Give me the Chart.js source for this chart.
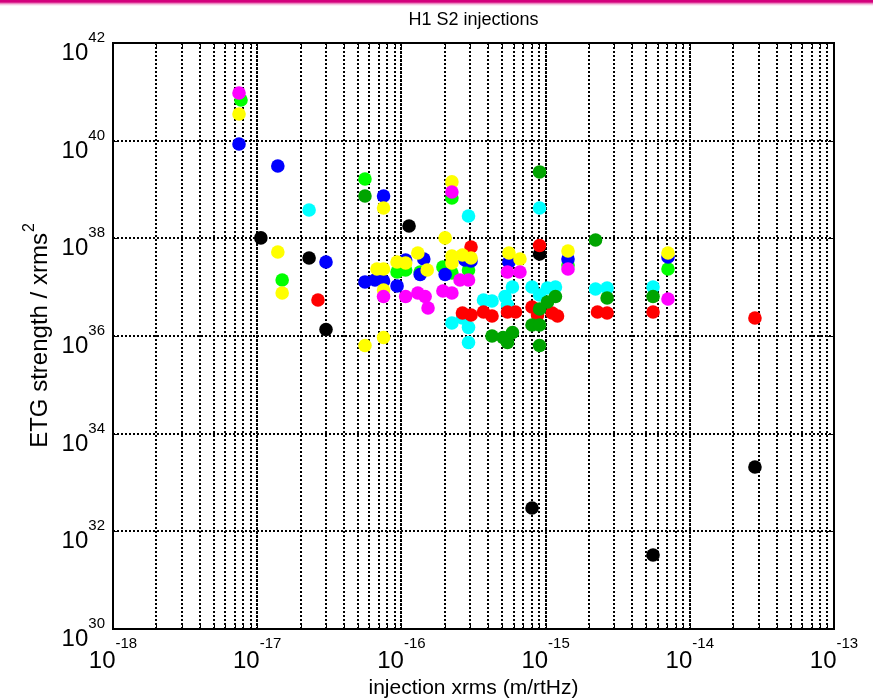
<!DOCTYPE html>
<html>
<head>
<meta charset="utf-8">
<script src="https://cdn.jsdelivr.net/npm/chart.js@4.4.1/dist/chart.umd.min.js"></script>
<style>
  html, body { margin: 0; padding: 0; background: #fff; }
  #wrap { position: relative; width: 873px; height: 700px; }
  #band { position: absolute; left: 0; top: 0; width: 873px; height: 6px;
          background: linear-gradient(to bottom, #d4007c 0px, #d4007c 2px, #f2b6d8 4px, rgba(255,255,255,0) 6px); }
</style>
</head>
<body>
<div id="wrap">
  <canvas id="c" width="873" height="700"></canvas>
  <div id="band"></div>
</div>
<script>
// ---- text ----
const titleText = 'H1 S2 injections';
const xLabel = 'injection xrms (m/rtHz)';
const yLabel = 'ETG strength / xrms';
const yLabelSup = '2';

// ---- axis decades (exponents of 10) ----
const xTickExponents = [-18, -17, -16, -15, -14, -13];
const yTickExponents = [30, 32, 34, 36, 38, 40, 42];

// ---- injections, one colour per series: x = injection xrms, y = ETG strength / xrms^2 ----
const magentaX = [7.48e-18, 2.24e-16, 7.52e-17, 1.07e-16, 1.30e-16, 1.46e-16, 1.53e-16, 1.94e-16, 2.24e-16, 2.55e-16, 2.92e-16, 5.44e-16, 6.64e-16, 1.43e-15, 7.06e-15];
const magentaY = [9.48e40, 8.89e38, 6.44e36, 6.44e36, 7.60e36, 6.44e36, 3.75e36, 8.36e36, 7.60e36, 1.40e37, 1.40e37, 2.05e37, 2.05e37, 2.36e37, 5.73e36];

const yellowX = [7.48e-18, 1.39e-17, 1.49e-17, 5.59e-17, 7.52e-17, 7.52e-17, 6.77e-17, 7.52e-17, 7.52e-17, 9.33e-17, 1.07e-16, 1.30e-16, 1.51e-16, 2.01e-16, 2.24e-16, 2.24e-16, 2.24e-16, 2.65e-16, 3.04e-16, 5.57e-16, 6.64e-16, 1.43e-15, 7.06e-15];
const yellowY = [3.52e40, 5.26e37, 7.60e36, 6.40e35, 9.33e35, 4.19e38, 2.36e37, 2.36e37, 8.75e36, 3.28e37, 3.13e37, 5.01e37, 2.25e37, 1.02e38, 1.43e39, 4.36e37, 3.13e37, 4.56e37, 3.96e37, 5.01e37, 3.78e37, 5.51e37, 5.01e37];

const blueX = [7.48e-18, 1.39e-17, 3.00e-17, 7.52e-17, 5.59e-17, 6.56e-17, 7.52e-17, 9.33e-17, 1.07e-16, 1.43e-16, 1.35e-16, 2.01e-16, 2.76e-16, 3.04e-16, 5.57e-16, 1.43e-15, 7.06e-15];
const blueY = [8.56e39, 3.03e39, 3.28e37, 7.36e38, 1.28e37, 1.40e37, 1.34e37, 1.06e37, 3.60e37, 3.78e37, 1.82e37, 1.82e37, 3.60e37, 3.44e37, 3.28e37, 3.78e37, 4.15e37];

const greenX = [7.72e-18, 1.49e-17, 5.59e-17, 9.33e-17, 1.07e-16, 1.35e-16, 2.24e-16, 1.94e-16, 2.24e-16, 2.92e-16, 1.43e-15, 7.06e-15];
const greenY = [6.82e40, 1.40e37, 1.64e39, 2.05e37, 2.25e37, 2.05e37, 6.71e38, 2.59e37, 1.95e37, 2.25e37, 2.84e37, 2.36e37];

const darkGreenX = [5.59e-17, 9.08e-16, 2.22e-15, 4.25e-16, 5.07e-16, 5.44e-16, 5.89e-16, 8.05e-16, 9.08e-16, 9.08e-16, 1.03e-15, 1.17e-15, 9.08e-16, 2.67e-15, 5.56e-15];
const darkGreenY = [7.36e38, 2.29e39, 9.25e37, 1.00e36, 9.33e35, 7.36e35, 1.18e36, 1.68e36, 1.68e36, 3.57e36, 4.98e36, 6.44e36, 6.40e35, 6.01e36, 6.44e36];

const redX = [2.64e-17, 3.04e-16, 9.08e-16, 2.65e-16, 3.04e-16, 3.71e-16, 4.25e-16, 5.44e-16, 6.18e-16, 8.05e-16, 8.79e-16, 1.11e-15, 1.21e-15, 2.29e-15, 2.67e-15, 5.56e-15, 2.83e-14];
const redY = [5.47e36, 6.65e37, 7.14e37, 2.96e36, 2.69e36, 3.10e36, 2.57e36, 3.10e36, 3.10e36, 3.93e36, 2.69e36, 2.96e36, 2.57e36, 3.10e36, 2.96e36, 3.10e36, 2.34e36];

const cyanX = [2.29e-17, 2.92e-16, 9.08e-16, 2.24e-16, 2.65e-16, 2.92e-16, 2.92e-16, 3.71e-16, 4.25e-16, 5.23e-16, 5.89e-16, 5.44e-16, 8.05e-16, 9.08e-16, 1.03e-15, 1.17e-15, 2.22e-15, 2.67e-15, 5.56e-15];
const cyanY = [3.81e38, 2.87e38, 4.19e38, 1.85e36, 2.34e36, 1.50e36, 7.36e35, 5.47e36, 5.21e36, 6.44e36, 1.01e37, 4.32e36, 1.01e37, 6.92e36, 9.62e36, 1.01e37, 9.18e36, 9.62e36, 1.01e37];

const blackX = [1.06e-17, 2.29e-17, 3.00e-17, 1.13e-16, 9.08e-16, 8.05e-16, 5.56e-15, 2.83e-14];
const blackY = [1.02e38, 3.96e37, 1.36e36, 1.79e38, 4.79e37, 3.01e32, 3.28e31, 2.08e33];

// first entry is painted on top
const seriesList = [
  { label: 'magenta',   color: '#ff00ff', xs: magentaX,   ys: magentaY },
  { label: 'yellow',    color: '#ffff00', xs: yellowX,    ys: yellowY },
  { label: 'blue',      color: '#0000ff', xs: blueX,      ys: blueY },
  { label: 'green',     color: '#00ff00', xs: greenX,     ys: greenY },
  { label: 'darkgreen', color: '#00a400', xs: darkGreenX, ys: darkGreenY },
  { label: 'red',       color: '#ff0000', xs: redX,       ys: redY },
  { label: 'cyan',      color: '#00ffff', xs: cyanX,      ys: cyanY },
  { label: 'black',     color: '#000000', xs: blackX,     ys: blackY }
];

const ink = '#000';
const fontFamily = '"Liberation Sans", Arial, Helvetica, sans-serif';

// grid values: every mantissa 1..9 in each x decade, every other decade on y
const xGridValues = [];
xTickExponents.forEach((e, i) => {
  if (i === xTickExponents.length - 1) { xGridValues.push(Math.pow(10, e)); return; }
  for (let m = 1; m <= 9; m++) xGridValues.push(m * Math.pow(10, e));
});
const yGridValues = yTickExponents.map(e => Math.pow(10, e));

const datasets = seriesList.map(s => ({
  label: s.label,
  data: s.xs.map((v, i) => ({ x: v, y: s.ys[i] })),
  backgroundColor: s.color,
  borderColor: s.color,
  pointRadius: 6.8,
  pointBorderWidth: 0,
  pointHoverRadius: 6.8,
  showLine: false
}));

function drawPower(ctx, base, exp, left, baseY, expY, bigSize, smallSize) {
  ctx.font = bigSize + 'px ' + fontFamily;
  ctx.fillText(base, left, baseY);
  const bw = ctx.measureText(base).width;
  ctx.font = smallSize + 'px ' + fontFamily;
  ctx.fillText(exp, left + bw, expY);
}
function powerWidth(ctx, base, exp, bigSize, smallSize) {
  ctx.font = bigSize + 'px ' + fontFamily;
  const bw = ctx.measureText(base).width;
  ctx.font = smallSize + 'px ' + fontFamily;
  return bw + ctx.measureText(exp).width;
}

const framePlugin = {
  id: 'frame',
  beforeDatasetsDraw(chart) {
    // decade lines on x read as solid where major and minor grids coincide
    const { ctx, chartArea: a, scales: { x } } = chart;
    ctx.save();
    ctx.strokeStyle = ink;
    ctx.lineWidth = 2;
    ctx.setLineDash([3, 1]);
    xTickExponents.forEach(e => {
      const px = Math.round(x.getPixelForValue(Math.pow(10, e)));
      ctx.beginPath();
      ctx.moveTo(px, a.top);
      ctx.lineTo(px, a.bottom);
      ctx.stroke();
    });
    ctx.restore();
  },
  afterDraw(chart) {
    const { ctx, chartArea: a, scales: { x, y } } = chart;
    ctx.save();
    ctx.strokeStyle = ink;
    ctx.lineWidth = 2;
    ctx.strokeRect(a.left, a.top, a.right - a.left, a.bottom - a.top);

    // inward tick marks on all four sides
    ctx.lineWidth = 1;
    x.ticks.forEach(t => {
      const px = Math.round(x.getPixelForValue(t.value)) + 0.5;
      ctx.beginPath();
      ctx.moveTo(px, a.top); ctx.lineTo(px, a.top + 6);
      ctx.moveTo(px, a.bottom); ctx.lineTo(px, a.bottom - 6);
      ctx.stroke();
    });
    y.ticks.forEach(t => {
      const py = Math.round(y.getPixelForValue(t.value)) + 0.5;
      ctx.beginPath();
      ctx.moveTo(a.left, py); ctx.lineTo(a.left + 6, py);
      ctx.moveTo(a.right, py); ctx.lineTo(a.right - 6, py);
      ctx.stroke();
    });

    ctx.fillStyle = ink;
    ctx.textAlign = 'left';
    ctx.textBaseline = 'alphabetic';

    // x tick labels 10^n
    xTickExponents.forEach(e => {
      const px = x.getPixelForValue(Math.pow(10, e));
      const w = powerWidth(ctx, '10', String(e), 24, 15);
      drawPower(ctx, '10', String(e), px - w / 2, a.bottom + 39, a.bottom + 19, 24, 15);
    });
    // y tick labels 10^n
    yTickExponents.forEach(e => {
      const py = y.getPixelForValue(Math.pow(10, e));
      const w = powerWidth(ctx, '10', String(e), 24, 15);
      drawPower(ctx, '10', String(e), a.left - 8 - w, py + 17, py - 1, 24, 15);
    });

    // title
    const cx = (a.left + a.right) / 2;
    ctx.textAlign = 'center';
    ctx.font = '18px ' + fontFamily;
    ctx.fillText(titleText, cx, 25);

    // x axis label
    ctx.font = '21px ' + fontFamily;
    ctx.fillText(xLabel, cx, 694);

    // y axis label with superscript
    ctx.textAlign = 'left';
    ctx.translate(47, (a.top + a.bottom) / 2);
    ctx.rotate(-Math.PI / 2);
    ctx.font = '24px ' + fontFamily;
    const mw = ctx.measureText(yLabel).width;
    ctx.font = '16px ' + fontFamily;
    const sw = ctx.measureText(yLabelSup).width;
    const start = -(mw + sw) / 2;
    ctx.font = '24px ' + fontFamily;
    ctx.fillText(yLabel, start, 0);
    ctx.font = '16px ' + fontFamily;
    ctx.fillText(yLabelSup, start + mw + 1, -13);
    ctx.restore();
  }
};

new Chart(document.getElementById('c'), {
  type: 'scatter',
  data: { datasets },
  options: {
    responsive: false,
    animation: false,
    devicePixelRatio: 1,
    layout: { padding: { left: 113, right: 39, top: 43, bottom: 71 } },
    plugins: { legend: { display: false }, tooltip: { enabled: false }, title: { display: false } },
    scales: {
      x: {
        type: 'logarithmic',
        min: 1e-18,
        max: 1e-13,
        afterBuildTicks: scale => { scale.ticks = xGridValues.map(v => ({ value: v })); },
        ticks: { display: false },
        grid: { color: ink, lineWidth: 2, drawTicks: false },
        border: { display: false, dash: [2, 2] }
      },
      y: {
        type: 'logarithmic',
        min: 1e30,
        max: 1e42,
        afterBuildTicks: scale => { scale.ticks = yGridValues.map(v => ({ value: v })); },
        ticks: { display: false },
        grid: { color: ink, lineWidth: 2, drawTicks: false },
        border: { display: false, dash: [2, 2] }
      }
    }
  },
  plugins: [framePlugin]
});
</script>
</body>
</html>
